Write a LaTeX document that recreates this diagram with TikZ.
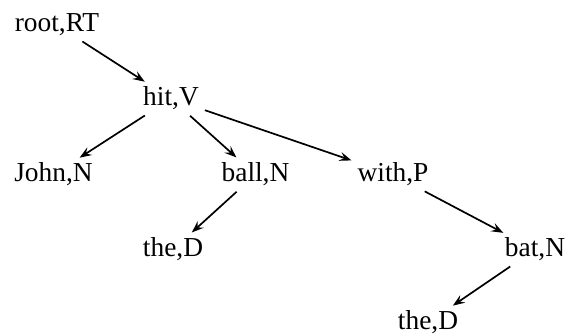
\documentclass[tikz,border=0pt]{standalone}
\usepackage{fontspec}
\setmainfont{Liberation Serif}
\usetikzlibrary{arrows.meta}
\begin{document}
\begin{tikzpicture}[x=1pt,y=-1pt,
  word/.style={anchor=base,inner sep=4pt,font=\fontsize{27.4}{30}\selectfont},
  dep/.style={-{Stealth[length=12pt,width=9pt,inset=4.5pt]},line width=1.7pt,shorten >=2pt,shorten <=2pt}]
\useasboundingbox (0,0) rectangle (568,336);
\node[word] (root) at (57,32) {root,RT};
\node[word] (hit) at (171,106) {hit,V};
\node[word] (john) at (53.5,182) {John,N};
\node[word] (ball) at (255.5,182) {ball,N};
\node[word] (with) at (393,182) {with,P};
\node[word] (the1) at (173,257) {the,D};
\node[word] (bat) at (535,257) {bat,N};
\node[word] (the2) at (428,330) {the,D};
\draw[dep] (root) -- (hit);
\draw[dep] (hit) -- (john);
\draw[dep] (hit) -- (ball);
\draw[dep] (hit) -- (with);
\draw[dep] (ball) -- (the1);
\draw[dep] (with) -- (bat);
\draw[dep] (bat) -- (the2);
\end{tikzpicture}
\end{document}
